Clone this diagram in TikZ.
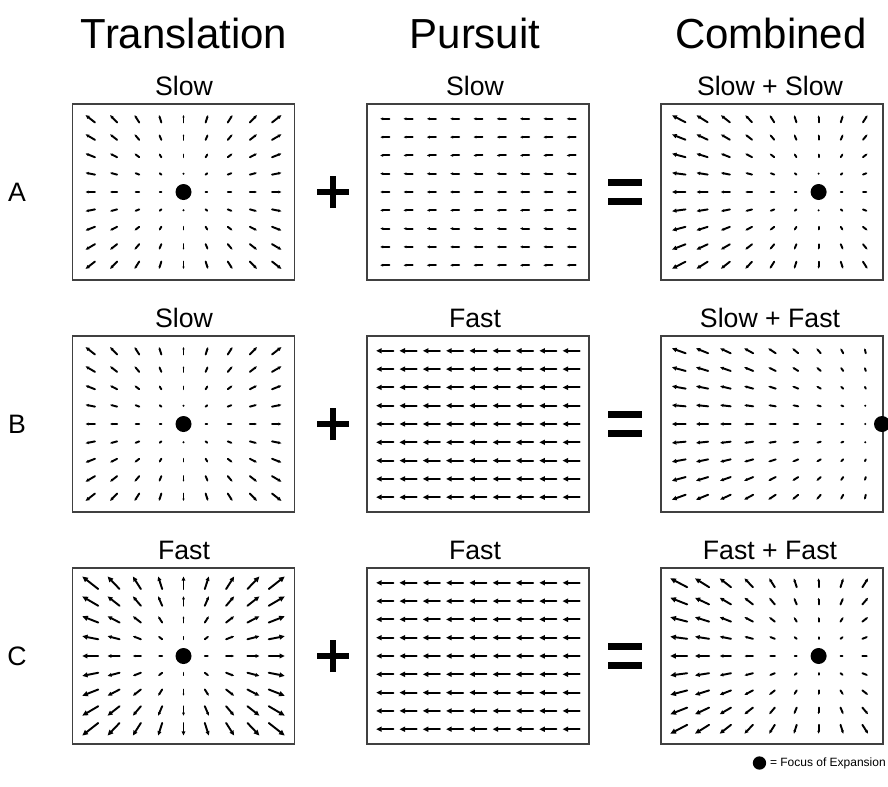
\documentclass[tikz,border=0pt]{standalone}
\usepackage{fontspec}
\setmainfont{Liberation Sans}
\tikzset{
  panelbox/.style={draw=black!75, line width=1.1pt, minimum width=166.5pt, minimum height=132pt, inner sep=0pt},
  vecline/.style={line width=1.45pt, line cap=round},
  foedot/.style={circle, fill=black, inner sep=0pt, minimum size=12pt},
  hdr/.style={font=\fontsize{31.5}{36}\selectfont, anchor=base, inner sep=0pt},
  sublab/.style={font=\fontsize{20}{24}\selectfont, anchor=base, inner sep=0pt},
  rowlab/.style={font=\fontsize{20}{24}\selectfont, inner sep=0pt},
  opbar/.style={line width=5.2pt},
}
% #1 name, #2 cx, #3 cy, #4 fx, #5 fy, #6 scale, #7 pursuit
\newcommand{\fieldpanel}[7]{%
  \node[panelbox] (#1) at (#2,#3) {};
  \foreach \i in {-4,...,4}{%
    \foreach \j in {-4,...,4}{%
      \pgfmathsetmacro{\ppx}{#2+\i*23.3}%
      \pgfmathsetmacro{\ppy}{#3+\j*18.3}%
      \pgfmathsetmacro{\vvx}{#6*(\ppx-(#4))-(#7)}%
      \pgfmathsetmacro{\vvy}{#6*(\ppy-(#5))}%
      \pgfmathsetmacro{\vlen}{sqrt(\vvx*\vvx+\vvy*\vvy)}%
      \ifdim\vlen pt<0.2pt\relax
      \else
        \ifdim\vlen pt<2pt\relax
          \fill (\ppx,\ppy) circle[radius=1.1];
        \else
          \pgfmathsetmacro{\ux}{\vvx/\vlen}%
          \pgfmathsetmacro{\uy}{\vvy/\vlen}%
          \pgfmathsetmacro{\hl}{min(0.32*\vlen,5.5)}%
          \pgfmathsetmacro{\hw}{0.5*\hl}%
          \pgfmathsetmacro{\tipx}{\ppx+0.5*\vvx}%
          \pgfmathsetmacro{\tipy}{\ppy+0.5*\vvy}%
          \pgfmathsetmacro{\basx}{\tipx-\hl*\ux}%
          \pgfmathsetmacro{\basy}{\tipy-\hl*\uy}%
          \pgfmathsetmacro{\tlx}{\ppx-0.5*\vvx}%
          \pgfmathsetmacro{\tly}{\ppy-0.5*\vvy}%
          \draw[vecline] (\tlx,\tly) -- (\basx,\basy);
          \fill (\tipx,\tipy) -- ({\basx-\hw*\uy},{\basy+\hw*\ux}) -- ({\basx+\hw*\uy},{\basy-\hw*\ux}) -- cycle;
        \fi
      \fi
    }%
  }%
}
\begin{document}
\begin{tikzpicture}[x=0.75pt, y=-0.75pt]
\useasboundingbox (0,0) rectangle (888,786);

% headers
\node[hdr] (hT) at (184,48) {Translation};
\node[hdr] (hP) at (475,48) {Pursuit};
\node[hdr] (hC) at (771,48) {Combined};

% sub labels
\node[sublab] (sA1) at (184,95) {Slow};
\node[sublab] (sA2) at (475,95) {Slow};
\node[sublab] (sA3) at (770,95) {Slow + Slow};
\node[sublab] (sB1) at (184,327) {Slow};
\node[sublab] (sB2) at (475,327) {Fast};
\node[sublab] (sB3) at (770,327) {Slow + Fast};
\node[sublab] (sC1) at (184,559) {Fast};
\node[sublab] (sC2) at (475,559) {Fast};
\node[sublab] (sC3) at (770,559) {Fast + Fast};

% row labels
\node[rowlab] (rA) at (17,192) {A};
\node[rowlab] (rB) at (17,424) {B};
\node[rowlab] (rC) at (17,656) {C};

% panels
\fieldpanel{pA1}{183.5}{192}{183.5}{192}{0.1}{0}
\fieldpanel{pA2}{478}{192}{478}{192}{0}{9}
\fieldpanel{pA3}{772}{192}{818.6}{192}{0.095}{0}
\fieldpanel{pB1}{183.5}{424}{183.5}{424}{0.1}{0}
\fieldpanel{pB2}{478}{424}{478}{424}{0}{17}
\fieldpanel{pB3}{772}{424}{882}{424}{0.067}{0}
\fieldpanel{pC1}{183.5}{656}{183.5}{656}{0.17}{0}
\fieldpanel{pC2}{478}{656}{478}{656}{0}{17}
\fieldpanel{pC3}{772}{656}{818.6}{656}{0.12}{0}

% foci of expansion
\node[foedot] (fA1) at (183.5,192) {};
\node[foedot] (fA3) at (818.6,192) {};
\node[foedot] (fB1) at (183.5,424) {};
\node[foedot] (fB3) at (882,424) {};
\node[foedot] (fC1) at (183.5,656) {};
\node[foedot] (fC3) at (818.6,656) {};

% operators
\foreach \yy/\nm in {192/A,424/B,656/C}{
  \coordinate (plus\nm) at (333,\yy);
  \draw[opbar] ([xshift=-12pt]plus\nm) -- ([xshift=12pt]plus\nm);
  \draw[opbar] ([yshift=-12pt]plus\nm) -- ([yshift=12pt]plus\nm);
  \coordinate (eq\nm) at (625,\yy);
  \draw[opbar] ([xshift=-12.5pt,yshift=6.8pt]eq\nm) -- ([xshift=12.5pt,yshift=6.8pt]eq\nm);
  \draw[opbar] ([xshift=-12.5pt,yshift=-6.8pt]eq\nm) -- ([xshift=12.5pt,yshift=-6.8pt]eq\nm);
}

% legend
\node[anchor=east, inner sep=0pt, font=\fontsize{9}{11}\selectfont] (legtext) at (886,763) {= Focus of Expansion};
\node[foedot, minimum size=10pt, anchor=east] (legdot) at ([xshift=-2.5pt]legtext.west) {};
\end{tikzpicture}
\end{document}
